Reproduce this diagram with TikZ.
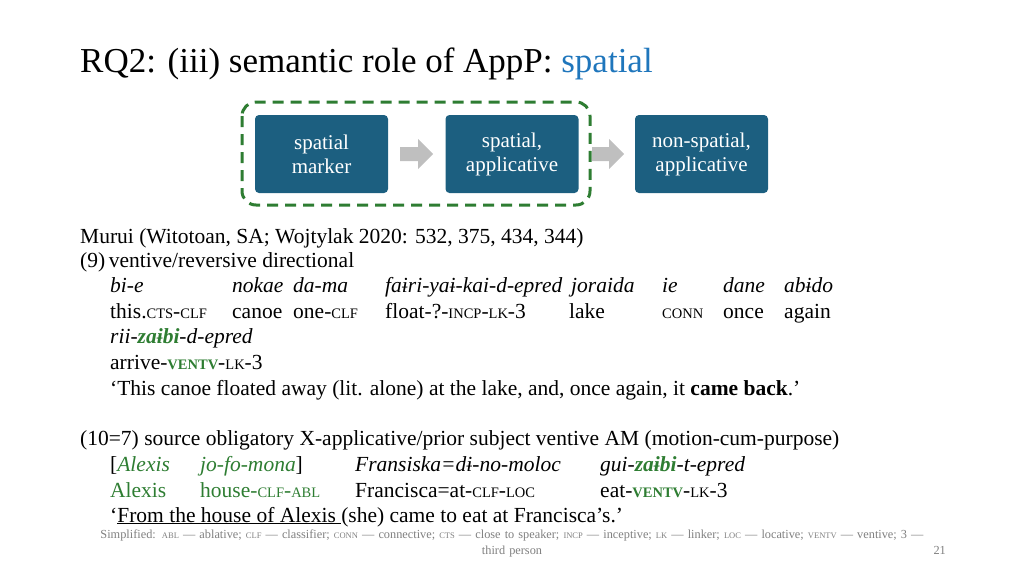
\documentclass[tikz,border=0pt]{standalone}
\usepackage{fontspec}
\setmainfont{Liberation Serif}
\definecolor{boxblue}{HTML}{1C5F80}
\definecolor{ttlblue}{HTML}{1F76BC}
\definecolor{dgreen}{HTML}{2E7D32}
\definecolor{foot}{HTML}{7F7F7F}
\newcommand\smc[1]{{\fontsize{14.5}{15}\selectfont #1}}
\newcommand\smf[1]{{\fontsize{8.5}{9}\selectfont #1}}
\begin{document}
\begin{tikzpicture}[x=1pt,y=-1pt,
  t/.style={anchor=base west,inner sep=0pt,font=\fontsize{21.5}{24}\selectfont},
  bx/.style={fill=boxblue,rounded corners=4pt,minimum width=133pt,minimum height=78pt,text=white,align=center,font=\fontsize{21}{24}\selectfont},
  ar/.style={fill=gray!50}]
\useasboundingbox (0,0) rectangle (1024,576);
\node[t,font=\fontsize{35}{38}\selectfont] (title) at (80,72) {RQ2: (iii) semantic role of AppP: \textcolor{ttlblue}{spatial}};
\node[bx] (b1) at (321.5,154) {spatial\\marker};
\node[bx] (b2) at (512,154) {spatial,\\applicative};
\node[bx] (b3) at (701.5,154) {non-spatial,\\applicative};
\fill[ar] (400,147) -- (418,147) -- (418,139) -- (433,154) -- (418,169) -- (418,161) -- (400,161) -- cycle;
\fill[ar] (592,147) -- (609,147) -- (609,139) -- (624,154) -- (609,169) -- (609,161) -- (592,161) -- cycle;
\draw[dgreen,line width=3pt,dash pattern=on 11pt off 7pt,rounded corners=14pt] (242,102) rectangle (590,205);
\node[t] (l1) at (80,243) {Murui (Witotoan, SA; Wojtylak 2020: 532, 375, 434, 344)};
\node[t] (l2) at (80,267) {(9)\,ventive/reversive directional};
\node[t] (g1) at (110,292) {\textit{bi-e}};
\node[t] (g2) at (232,292) {\textit{nokae}};
\node[t] (g3) at (293,292) {\textit{da-ma}};
\node[t] (g4) at (385,292) {\textit{faɨri-yaɨ-kai-d-epred}};
\node[t] (g5) at (571,292) {\textit{joraida}};
\node[t] (g6) at (662,292) {\textit{ie}};
\node[t] (g7) at (723,292) {\textit{dane}};
\node[t] (g8) at (784,292) {\textit{abɨdo}};
\node[t] (h1) at (110,318) {this.\smc{CTS}-\smc{CLF}};
\node[t] (h2) at (232,318) {canoe};
\node[t] (h3) at (293,318) {one-\smc{CLF}};
\node[t] (h4) at (385,318) {float-?-\smc{INCP}-\smc{LK}-3};
\node[t] (h5) at (569,318) {lake};
\node[t] (h6) at (662,318) {\smc{CONN}};
\node[t] (h7) at (723,318) {once};
\node[t] (h8) at (784,318) {again};
\node[t] (r1) at (110,343) {\textit{rii-\textcolor{dgreen}{\textbf{zaɨbi}}-d-epred}};
\node[t] (r2) at (110,369) {arrive-\textcolor{dgreen}{\textbf{\smc{VENTV}}}-\smc{LK}-3};
\node[t] (r3) at (110,395) {‘This canoe floated away (lit. alone) at the lake, and, once again, it \textbf{came back}.’};
\node[t] (m1) at (80,445) {(10=7) source obligatory X-applicative/prior subject ventive AM (motion-cum-purpose)};
\node[t] (k1) at (110,471) {[\textcolor{dgreen}{\textit{Alexis}}};
\node[t] (k2) at (200,471) {\textcolor{dgreen}{\textit{jo-fo-mona}}]};
\node[t] (k3) at (355,471) {\textit{Fransiska=dɨ-no-moloc}};
\node[t] (k4) at (600,471) {\textit{gui-\textcolor{dgreen}{\textbf{zaɨbi}}-t-epred}};
\node[t] (n1) at (110,497) {\textcolor{dgreen}{Alexis}};
\node[t] (n2) at (200,497) {\textcolor{dgreen}{house-\smc{CLF}-\smc{ABL}}};
\node[t] (n3) at (355,497) {Francisca=at-\smc{CLF}-\smc{LOC}};
\node[t] (n4) at (600,497) {eat-\textcolor{dgreen}{\textbf{\smc{VENTV}}}-\smc{LK}-3};
\node[t] (q1) at (110,522) {‘\underline{From the house of Alexis }(she) came to eat at Francisca’s.’};
\node[anchor=base,inner sep=0pt,text=foot,font=\fontsize{12.3}{16}\selectfont,align=center,text width=900pt] (fn) at (512,538) {Simplified: \smf{ABL} — ablative; \smf{CLF} — classifier; \smf{CONN} — connective; \smf{CTS} — close to speaker; \smf{INCP} — inceptive; \smf{LK} — linker; \smf{LOC} — locative; \smf{VENTV} — ventive; 3 —\\third person};
\node[anchor=base east,inner sep=0pt,text=foot,font=\fontsize{12.3}{14}\selectfont] (pg) at (946,554) {21};
\end{tikzpicture}
\end{document}
